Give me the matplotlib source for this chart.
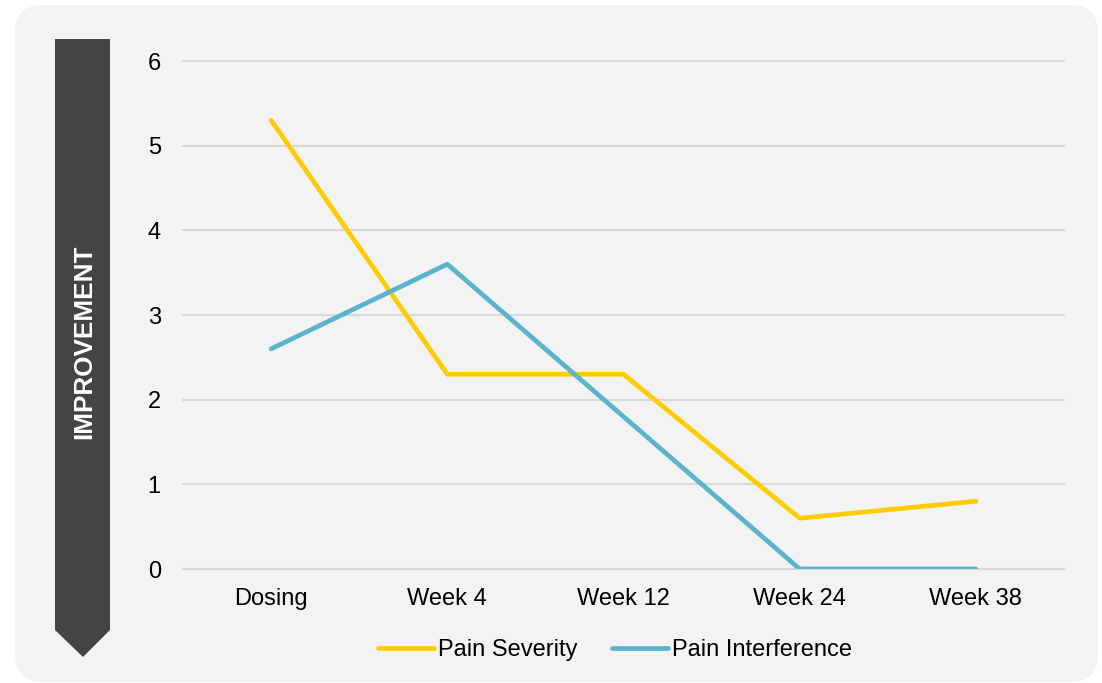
import matplotlib.pyplot as plt
from matplotlib.patches import FancyBboxPatch, Polygon

# Chart data
timepoints = ['Dosing', 'Week 4', 'Week 12', 'Week 24', 'Week 38']
pain_severity = [5.3, 2.3, 2.3, 0.6, 0.8]
pain_interference = [2.6, 3.6, 1.8, 0.0, 0.0]
y_ticks = [0, 1, 2, 3, 4, 5, 6]

plt.rcParams['font.family'] = ['Liberation Sans', 'DejaVu Sans']

W, H = 1102, 683
fig = plt.figure(figsize=(W / 100, H / 100), dpi=100)
fig.patch.set_facecolor('white')

# Rounded grey panel behind everything
panel = FancyBboxPatch((15 / W, 1 - 682 / H), (1098 - 15) / W, (682 - 5) / H,
                       boxstyle='round,pad=0,rounding_size=0.025',
                       transform=fig.transFigure, facecolor='#F3F3F3',
                       edgecolor='none', zorder=-2, mutation_aspect=W / H)
fig.patches.append(panel)

# Dark arrow banner on the left
pts = [(55, 39), (110, 39), (110, 630), (83, 657), (55, 630)]
banner = Polygon([(x / W, 1 - y / H) for x, y in pts], closed=True,
                 transform=fig.transFigure, facecolor='#464442',
                 edgecolor='none', zorder=-1)
fig.patches.append(banner)
fig.text(84 / W, 1 - 342 / H, 'IMPROVEMENT', rotation=90, color='white',
         fontsize=18.8, fontweight='bold', ha='center', va='center')

# Axes area
ax = fig.add_axes([183 / W, 1 - 569 / H, (1064 - 183) / W, (569 - 61) / H])
ax.set_facecolor('none')

x = range(len(timepoints))
ax.plot(x, pain_severity, color='#FFCC00', lw=3.4, solid_capstyle='round',
        label='Pain Severity', zorder=3)
ax.plot(x, pain_interference, color='#5BB3CE', lw=3.4, solid_capstyle='round',
        label='Pain Interference', zorder=3)

ax.set_xlim(-0.5, len(timepoints) - 0.5)
ax.set_ylim(0, 6)
ax.set_yticks(y_ticks)
ax.set_xticks(list(x))
ax.set_xticklabels(timepoints)
ax.grid(axis='y', color='#D9D9D9', lw=1.5)
ax.set_axisbelow(True)
for s in ax.spines.values():
    s.set_visible(False)
ax.tick_params(length=0, labelsize=17, colors='black')
ax.tick_params(axis='y', pad=16)
ax.tick_params(axis='x', pad=13.5)
for t in ax.yaxis.get_major_ticks():
    t.gridline.set_clip_on(False)

leg = ax.legend(loc='center', bbox_to_anchor=(615 / W, 1 - 650 / H),
                bbox_transform=fig.transFigure, ncol=2, frameon=False,
                fontsize=17, handlelength=2.37, handletextpad=0.17,
                columnspacing=1.5)

fig.savefig('out.png', dpi=100)
